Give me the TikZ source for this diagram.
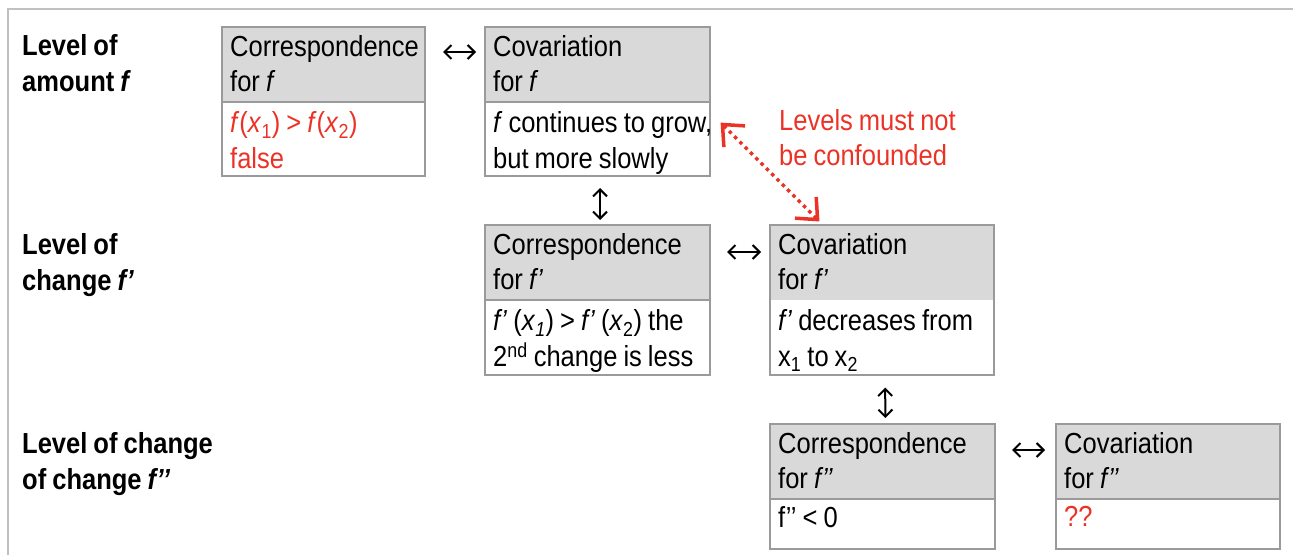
\documentclass[tikz,border=0pt]{standalone}
\usepackage{fontspec}
\setmainfont{Liberation Sans}[FakeStretch=0.88, WordSpace=0.85]
\usetikzlibrary{arrows.meta,calc,fit}
\definecolor{hdrgray}{HTML}{D9D9D9}
\definecolor{edgegray}{HTML}{9A9A9A}
\definecolor{framegray}{HTML}{C0C0C0}
\definecolor{alert}{RGB}{236,50,38}
\begin{document}
\begin{tikzpicture}[x=1pt,y=-1pt,
  hdr/.style={draw=edgegray, line width=1.2pt, fill=hdrgray, minimum width=#1,
    minimum height=75pt, anchor=north west, inner sep=0pt, outer sep=0pt},
  body/.style n args={2}{draw=edgegray, line width=1.2pt, fill=white, minimum width=#1,
    minimum height=#2, anchor=north west, inner sep=0pt, outer sep=0pt},
  txt/.style={anchor=north west, inner sep=0pt, align=left,
    font=\fontsize{29}{35.5}\selectfont},
  lbl/.style={anchor=north west, inner sep=0pt, align=left,
    font=\bfseries\fontsize{29}{36}\selectfont},
  pair/.style={{Straight Barb[length=7pt,width=14pt]}-{Straight Barb[length=7pt,width=14pt]},
    line width=2pt},
  confuse/.style={draw=alert, line width=3.5pt, dash pattern=on 3.5pt off 4pt,
    {Straight Barb[length=17pt,width=30pt,line width=3.5pt]}-{Straight Barb[length=17pt,width=30pt,line width=3.5pt]}}]

\useasboundingbox (0,0) rectangle (1293,555);

% page frame
\draw[framegray, line width=2pt] (8,555) -- (8,9) -- (1293,9);

% level labels
\node[lbl] (L1) at (22,34) {Level of\\amount \textit{f}};
\node[lbl] (L2) at (22,233) {Level of\\change \textit{f’}};
\node[lbl] (L3) at (22,432) {Level of change\\of change \textit{f’’}};

% level of amount
\node[hdr=203pt] (Ah) at (222,27) {};
\node[body={203pt}{74pt}] (Ab) at (222,102) {};
\node[hdr=225pt] (Bh) at (485,27) {};
\node[body={225pt}{74pt}] (Bb) at (485,102) {};

% level of change
\node[hdr=225pt] (Ch) at (485,225) {};
\node[body={225pt}{75pt}] (Cb) at (485,300) {};
\node[hdr=224pt, draw=none] (Dh) at (770,225) {};
\node[body={224pt}{75pt}, draw=none] (Db) at (770,300) {};
\node[fit=(Dh)(Db), draw=edgegray, line width=1.2pt, inner sep=0pt] (Dbox) {};

% level of change of change
\node[hdr=225pt] (Eh) at (770,424) {};
\node[body={225pt}{50pt}] (Eb) at (770,499) {};
\node[hdr=224pt] (Fh) at (1056,424) {};
\node[body={224pt}{50pt}] (Fb) at (1056,499) {};

% box texts
\node[txt] (Aht) at ($(Ah.north west)+(8,8)$) {Correspondence\\for \textit{f}};
\node[txt, text=alert] (Abt) at ($(Ab.north west)+(8,9.5)$)
  {\textit{f}(\textit{x}\textsubscript{1}) > \textit{f}(\textit{x}\textsubscript{2})\\false};
\node[txt] (Bht) at ($(Bh.north west)+(8,8)$) {Covariation\\for \textit{f}};
\node[txt] (Bbt) at ($(Bb.north west)+(8,9.5)$) {\textit{f} continues to grow,\\but more slowly};
\node[txt] (Cht) at ($(Ch.north west)+(8,8)$) {Correspondence\\for \textit{f’}};
\node[txt] (Cbt) at ($(Cb.north west)+(8,9.5)$)
  {\textit{f’} (\textit{x}\textsubscript{\textit{1}}) > \textit{f’} (\textit{x}\textsubscript{2}) the\\2\textsuperscript{nd} change is less};
\node[txt] (Dht) at ($(Dh.north west)+(8,8)$) {Covariation\\for \textit{f’}};
\node[txt] (Dbt) at ($(Db.north west)+(8,9.5)$) {\textit{f’} decreases from\\x\textsubscript{1} to x\textsubscript{2}};
\node[txt] (Eht) at ($(Eh.north west)+(8,8)$) {Correspondence\\for \textit{f’’}};
\node[txt] (Ebt) at ($(Eb.north west)+(8,7.5)$) {f’’ < 0};
\node[txt] (Fht) at ($(Fh.north west)+(8,8)$) {Covariation\\for \textit{f’’}};
\node[txt, text=alert] (Fbt) at ($(Fb.north west)+(8,7.5)$) {??};

% warning note
\node[txt, text=alert] (warn) at (779,109) {Levels must not\\be confounded};

% links between views
\draw[pair, shorten <=18pt, shorten >=9pt] ([yshift=12.5pt]Ah.east) -- ([yshift=12.5pt]Bh.west);
\draw[pair, shorten <=17pt, shorten >=9pt] ([yshift=10.5pt]Ch.east) -- ([yshift=10.5pt]Dh.west);
\draw[pair, shorten <=17pt, shorten >=11pt] ([yshift=11.5pt]Eh.east) -- ([yshift=11.5pt]Fh.west);
\draw[pair, shorten <=12pt, shorten >=5pt] ([xshift=2.5pt]Bb.south) -- ([xshift=2.5pt]Ch.north);
\draw[pair, shorten <=12pt, shorten >=6pt] ([xshift=3pt]Dbox.south) -- ([xshift=3pt]Eh.north);

% levels that must not be mixed up
\draw[confuse, shorten <=15pt, shorten >=5pt] ($(Bb.north east)+(0,10)$) -- ($(Dh.north west)+(53,0)$);
\end{tikzpicture}
\end{document}
